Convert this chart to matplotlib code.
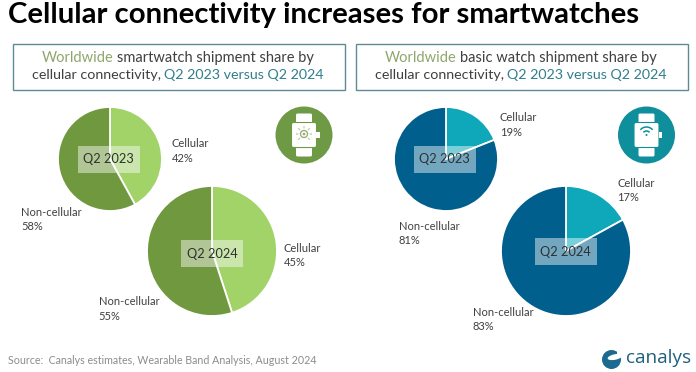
import matplotlib
matplotlib.use('Agg')
import matplotlib.pyplot as plt
from matplotlib.patches import Circle, Ellipse, FancyBboxPatch, Rectangle, Wedge, Arc

plt.rcParams['font.family'] = ['Lato', 'DejaVu Sans']

W, H = 696, 372

# chart data
categories = ['Cellular', 'Non-cellular']
smart_2023 = [42, 58]
smart_2024 = [45, 55]
basic_2023 = [19, 81]
basic_2024 = [17, 83]
period_labels = ['Q2 2023', 'Q2 2024']

title = 'Cellular connectivity increases for smartwatches'
source = 'Source:  Canalys estimates, Wearable Band Analysis, August 2024'

GREY = '#404040'
OLIVE = '#8FA66B'
TEAL = '#2F7F8C'

fig = plt.figure(figsize=(W / 100, H / 100), dpi=100)
ax = fig.add_axes([0, 0, 1, 1])
ax.set_xlim(0, W)
ax.set_ylim(0, H)
ax.axis('off')


def Y(py):
    return H - py


def draw_runs(runs, cx, py, size):
    # one centred line made of differently coloured pieces
    r = fig.canvas.get_renderer()
    widths = []
    for s, c in runs:
        t = ax.text(0, 0, s, fontsize=size)
        widths.append(t.get_window_extent(r).width)
        t.remove()
    gap = size * 0.3
    x = cx - (sum(widths) + gap * (len(runs) - 1)) / 2
    for (s, c), w in zip(runs, widths):
        ax.text(x, Y(py), s, color=c, fontsize=size, ha='left', va='center')
        x += w + gap


def draw_pie(values, cx, cy, r, colors):
    ax.pie(values, colors=colors, center=(cx, Y(cy)), radius=r, startangle=90,
           counterclock=False, frame=False,
           wedgeprops={'edgecolor': 'white', 'linewidth': 1.3})


def draw_tag(label, cx, py):
    ax.add_patch(Rectangle((cx - 31, Y(py + 13.5)), 62, 27, fc='white', alpha=0.45, ec='none', zorder=5))
    ax.text(cx, Y(py), label, fontsize=9.2, color='#303030', ha='center', va='center', zorder=6)


def draw_label(name, value, px, py, ha='left'):
    ax.text(px, Y(py), name + '\n' + str(value) + '%', fontsize=8, color=GREY, ha=ha, va='center',
            linespacing=1.35)


def draw_watch(cx, cy, color):
    ax.add_patch(Circle((cx, Y(cy)), 28.5, fc=color, ec='none'))
    ax.add_patch(FancyBboxPatch((cx - 6.5, Y(cy - 13)), 13, 7, boxstyle='round,pad=1.5', fc='white', ec='none'))
    ax.add_patch(FancyBboxPatch((cx - 6.5, Y(cy + 20)), 13, 7, boxstyle='round,pad=1.5', fc='white', ec='none'))
    ax.add_patch(FancyBboxPatch((cx - 10.5, Y(cy + 10.5)), 21, 21, boxstyle='round,pad=2', fc='white', ec=color, lw=0.8))
    ax.add_patch(Rectangle((cx + 12, Y(cy + 3)), 3.5, 6, fc='white', ec='none'))


ax.text(8, Y(15), title, fontsize=21.2, fontweight='bold', color='black', ha='left', va='center')

# subtitle boxes
for x0, x1 in [(12.5, 344.5), (355.5, 687.5)]:
    ax.add_patch(Rectangle((x0, Y(90)), x1 - x0, 46, fc='white', ec='#5F8A94', lw=1))

draw_runs([('Worldwide', OLIVE), ('smartwatch shipment share by', GREY)], 178, 58, 10.5)
draw_runs([('cellular connectivity,', GREY), ('Q2 2023 versus Q2 2024', TEAL)], 178, 75, 10.3)
draw_runs([('Worldwide', OLIVE), ('basic watch shipment share by', GREY)], 521, 58, 10.5)
draw_runs([('cellular connectivity,', GREY), ('Q2 2023 versus Q2 2024', TEAL)], 521, 75, 10.3)

green = ['#A2D369', '#70993F']
blue = ['#0FA8BA', '#005F8C']
draw_pie(smart_2023, 110, 159, 52, green)
draw_pie(smart_2024, 212, 251, 65, green)
draw_pie(basic_2023, 446, 159, 52, blue)
draw_pie(basic_2024, 566, 251, 65, blue)
ax.set_xlim(0, W)
ax.set_ylim(0, H)
ax.set_aspect('auto')

draw_tag(period_labels[0], 108.5, 159)
draw_tag(period_labels[1], 212, 253.5)
draw_tag(period_labels[0], 444.5, 159)
draw_tag(period_labels[1], 565.5, 251.5)

draw_label(categories[0], smart_2023[0], 172, 151)
draw_label(categories[1], smart_2023[1], 21, 219.5)
draw_label(categories[0], smart_2024[0], 284, 255.5)
draw_label(categories[1], smart_2024[1], 98.5, 309)
draw_label(categories[0], basic_2023[0], 500, 125)
draw_label(categories[1], basic_2023[1], 398.5, 233.5)
draw_label(categories[0], basic_2024[0], 617, 190.5)
draw_label(categories[1], basic_2024[1], 472.5, 319.5)

draw_watch(304, 135, '#6E9A45')
draw_watch(646.5, 135, '#0F8E9C')

# small marks inside the two watch faces
ax.add_patch(Circle((304, Y(134)), 3.5, fc='none', ec='#8FA66B', lw=0.9))
ax.add_patch(Circle((304, Y(134)), 1.3, fc='#8FA66B', ec='none'))
for a in range(0, 360, 45):
    if a != 270:
        ax.add_patch(Wedge((304, Y(134)), 8, a - 4, a + 4, width=2.5, fc='#A8BC8A', ec='none'))
for rad in [4, 8]:
    ax.add_patch(Arc((646.5, Y(135)), rad * 2, rad * 2, theta1=40, theta2=140, color='#0F8E9C', lw=1.1))
ax.add_patch(Circle((646.5, Y(135)), 1, fc='#0F8E9C', ec='none'))

ax.text(8, Y(360.5), source, fontsize=7.7, color='#8C8C8C', ha='left', va='center')

# logo
ax.add_patch(Circle((611.5, Y(359.5)), 9.5, fc='#1B6A8F', ec='none'))
ax.add_patch(Ellipse((615, Y(357)), 15, 5.5, angle=12, fc='white', ec='none'))
ax.add_patch(Rectangle((617, Y(357)), 6, 6, fc='white', ec='none'))
ax.text(626, Y(358), 'canalys', fontsize=13.6, color='#1F5F7F', ha='left', va='center', family='Open Sans')

fig.savefig('out.png', dpi=100)
